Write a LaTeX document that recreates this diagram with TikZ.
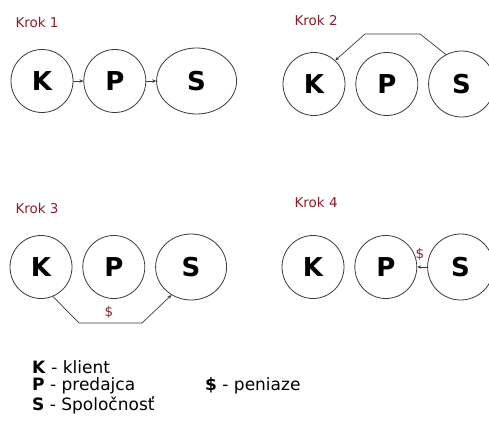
\documentclass[tikz,border=0pt]{standalone}
\usepackage{fontspec}
\setmainfont{DejaVu Sans}
\usepackage{tikz}
\usetikzlibrary{arrows.meta,positioning,shapes.geometric}
\definecolor{clKrok}{HTML}{8A1C2C}
\definecolor{clLine}{HTML}{3A3A3A}
\tikzset{
  party/.style={ellipse, draw=clLine, line width=0.8pt, fill=white, inner sep=0pt,
                minimum width=62pt, minimum height=63pt, font=\fontsize{26}{28}\selectfont\bfseries},
  firm/.style={party, minimum width=#1, minimum height=66pt},
  firm/.default=66pt,
  kroklabel/.style={anchor=west, text=clKrok, font=\fontsize{13.5}{16}\selectfont},
  money/.style={text=clKrok, font=\fontsize{13.5}{16}\selectfont, inner sep=1pt},
  legend/.style={anchor=west, inner sep=0pt, font=\fontsize{17}{19}\selectfont},
  pass/.style={-{Stealth[length=4pt,width=3.5pt]}, draw=clLine, line width=0.7pt},
}
\begin{document}
\begin{tikzpicture}[x=1pt, y=-1pt, node distance=10pt]
  \useasboundingbox (0,0) rectangle (489,425);
  % Krok 1
  \node[kroklabel] (t1) at (12,22) {Krok 1};
  \node[party] (k1) at (42,81) {K};
  \node[party, right=of k1] (p1) {P};
  \node[firm=80pt, right=of p1] (s1) {S};
  \draw[pass] (k1) -- (p1);
  \draw[pass] (p1) -- (s1);
  % Krok 2
  \node[kroklabel] (t2) at (291,20) {Krok 2};
  \node[party] (k2) at (314,84) {K};
  \node[party, right=of k2] (p2) {P};
  \node[firm, right=of p2] (s2) {S};
  \draw[pass] (s2.118) -- (420,34) -- (365,34) -- (k2.48);
  % Krok 3
  \node[kroklabel] (t3) at (12,208) {Krok 3};
  \node[party] (k3) at (41,267) {K};
  \node[party, right=of k3] (p3) {P};
  \node[firm=71pt, right=of p3] (s3) {S};
  \draw[pass] (k3.-68) -- (79,323) -- (142,323) -- (s3.-125);
  \node[money] (d3) at (109,312) {\$};
  % Krok 4
  \node[kroklabel] (t4) at (291,202) {Krok 4};
  \node[party] (k4) at (313,267) {K};
  \node[party, right=of k4] (p4) {P};
  \node[firm, right=of p4] (s4) {S};
  \draw[pass] (s4) -- (p4);
  \node[money] (d4) at (420,254) {\$};
  % legenda
  \node[legend] (lk) at (32,367) {\textbf{K} - klient};
  \node[legend] (lp) at (32,386) {\textbf{P} - predajca};
  \node[legend] (ls) at (32,405) {\textbf{S} - Spoločnosť};
  \node[legend] (ld) at (205,386) {\textbf{\$} - peniaze};
\end{tikzpicture}
\end{document}
